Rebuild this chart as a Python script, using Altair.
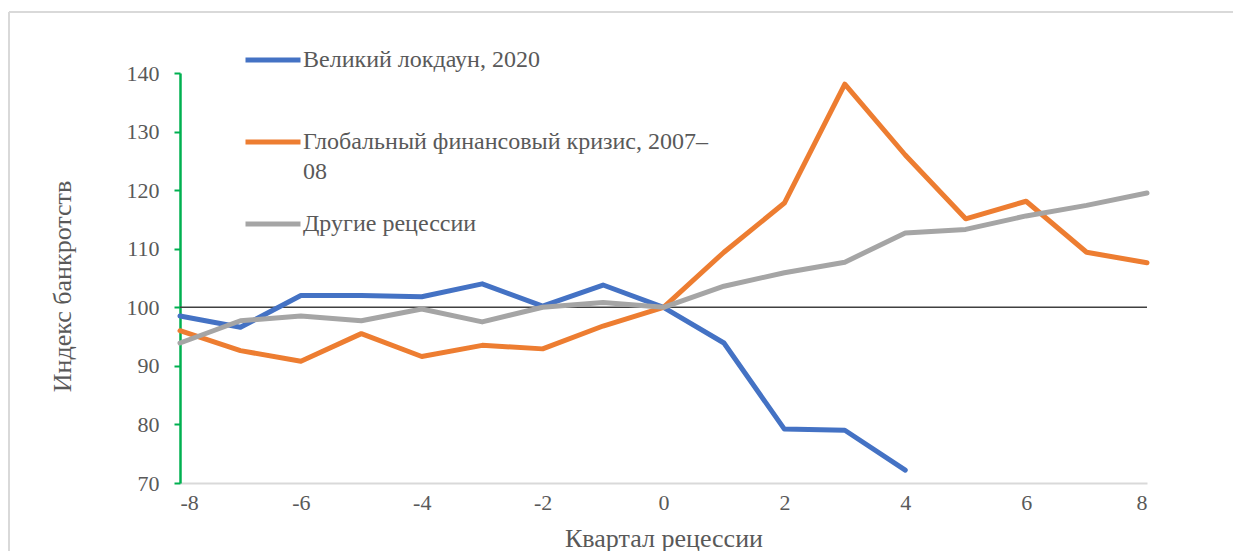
import altair as alt
import pandas as pd

quarters = list(range(-8, 9))
lockdown = [98.5, 96.6, 102.0, 102.0, 101.8, 104.0, 100.2, 103.8, 100.0, 93.9, 79.2, 79.0, 72.2]
gfc = [96.0, 92.6, 90.8, 95.5, 91.6, 93.5, 92.9, 96.8, 100.0, 109.4, 117.8, 138.1, 126.0, 115.1, 118.1, 109.4, 107.6]
other = [93.9, 97.7, 98.5, 97.7, 99.7, 97.5, 100.0, 100.8, 100.0, 103.6, 105.9, 107.7, 112.7, 113.3, 115.6, 117.4, 119.5]

series_names = ["Великий локдаун, 2020", "Глобальный финансовый кризис, 2007–08", "Другие рецессии"]
series_colors = ["#4472C4", "#ED7D31", "#A5A5A5"]

rows = []
for name, vals in zip(series_names, [lockdown, gfc, other]):
    for q, v in zip(quarters, vals):
        rows.append({"q": q, "v": v, "s": name})
df = pd.DataFrame(rows)

FONT = "Liberation Serif"
TXT = "#595959"
FRAME = "#D9D9D9"

x = alt.X("q:Q", title="Квартал рецессии",
          scale=alt.Scale(domain=[-8, 8], nice=False, zero=False),
          axis=alt.Axis(values=list(range(-8, 9, 2)), tickSize=0, labelPadding=9,
                        labelExpr="'' + datum.value",
                        domainColor="#D9D9D9", domainWidth=2, grid=False,
                        labelFont=FONT, labelFontSize=22, labelColor=TXT,
                        titleFont=FONT, titleFontSize=26, titleColor=TXT,
                        titleFontWeight="normal", titlePadding=12))
y = alt.Y("v:Q", title="Индекс банкротств",
          scale=alt.Scale(domain=[70, 140], nice=False, zero=False),
          axis=alt.Axis(values=list(range(70, 141, 10)), tickSize=6, tickWidth=2,
                        tickColor="#00B050", domainColor="#00B050", domainWidth=2.5,
                        labelPadding=15, grid=False,
                        labelFont=FONT, labelFontSize=22, labelColor=TXT,
                        titleFont=FONT, titleFontSize=26, titleColor=TXT,
                        titleFontWeight="normal", titlePadding=51, titleY=213))

# chart-area frame (top and left edges visible in the reference)
frame_top = alt.Chart(pd.DataFrame({"k": [0]})).mark_rule(color=FRAME, strokeWidth=2).encode(
    x=alt.value(-171), x2=alt.value(1061), y=alt.value(-61)
)
frame_left = alt.Chart(pd.DataFrame({"k": [0]})).mark_rule(color=FRAME, strokeWidth=2).encode(
    x=alt.value(-171), y=alt.value(-61), y2=alt.value(486)
)

rule = alt.Chart(pd.DataFrame({"v": [100]})).mark_rule(color="#404040", strokeWidth=1.5).encode(
    y=alt.Y("v:Q", scale=alt.Scale(domain=[70, 140], nice=False, zero=False))
)

lines = alt.Chart(df).mark_line(strokeWidth=5, strokeCap="round", strokeJoin="round").encode(
    x=x, y=y,
    color=alt.Color("s:N", scale=alt.Scale(domain=series_names, range=series_colors),
                    legend=alt.Legend(orient="none", legendX=63, legendY=-43, title=None,
                                      direction="vertical", symbolType="stroke",
                                      symbolSize=3025, symbolStrokeWidth=5,
                                      labelFont=FONT, labelFontSize=24, labelColor=TXT,
                                      labelOffset=0, rowPadding=10, labelLimit=800,
                                      labelBaseline="middle", gridAlign="all",
                                      labelExpr="datum.label == 'Глобальный финансовый кризис, 2007–08' ? ['Глобальный финансовый кризис, 2007–', '08'] : datum.label")),
    order=alt.Order("q:Q"),
)

chart = alt.layer(frame_top, frame_left, rule, lines).properties(
    width=967, height=410,
    background="white",
    padding={"left": 172, "top": 65, "right": 86, "bottom": 68},
    autosize=alt.AutoSizeParams(type="none"),
).configure(
    view=alt.ViewConfig(stroke=None),
    style={"guide-label": {"lineHeight": 30}},
)

chart.save("out.html", embed_options={"renderer": "svg", "actions": False})
